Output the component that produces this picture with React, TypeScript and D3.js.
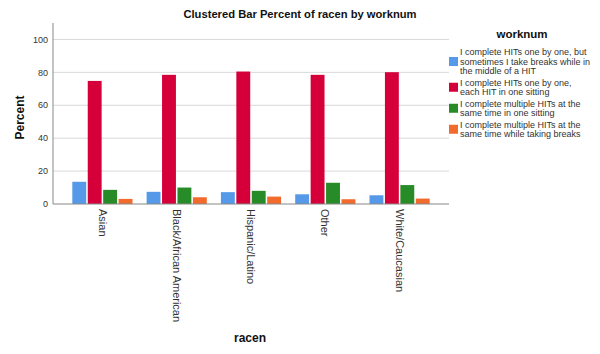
import { useEffect, useRef } from 'react';
import * as d3 from 'd3';

const categories = ['Asian', 'Black/African American', 'Hispanic/Latino', 'Other', 'White/Caucasian'];
const seriesNames = [
  ['I complete HITs one by one, but', 'sometimes I take breaks while in', 'the middle of a HIT'],
  ['I complete HITs one by one,', 'each HIT in one sitting'],
  ['I complete multiple HITs at the', 'same time in one sitting'],
  ['I complete multiple HITs at the', 'same time while taking breaks'],
];
const breaksWhile = [13.5, 7.4, 7.2, 5.9, 5.3];
const oneSitting = [74.8, 78.5, 80.5, 78.5, 80.1];
const multipleOneSitting = [8.6, 10.0, 8.0, 12.9, 11.5];
const multipleBreaks = [3.1, 4.1, 4.5, 2.9, 3.3];
const yTicks = [0, 20, 40, 60, 80, 100];

const colors = ['#5599e8', '#d5003a', '#278b27', '#f26b2d'];

export default function App() {
  const containerRef = useRef<HTMLDivElement>(null);

  useEffect(() => {
    if (!containerRef.current) return;
    d3.select(containerRef.current).selectAll('*').remove();

    const width = 600;
    const height = 354;
    const left = 53;
    const right = 449;
    const top = 23;
    const bottom = 204;

    const svg = d3
      .select(containerRef.current)
      .append('svg')
      .attr('width', width)
      .attr('height', height)
      .style('display', 'block')
      .style('font-family', 'Arial, "Liberation Sans", sans-serif');

    svg.append('rect').attr('width', width).attr('height', height).attr('fill', '#fff');

    const series = [breaksWhile, oneSitting, multipleOneSitting, multipleBreaks];

    const x0 = d3.scaleBand<string>().domain(categories).range([left, right]).paddingInner(0.19).paddingOuter(0.26);
    const x1 = d3
      .scaleBand<number>()
      .domain(d3.range(series.length))
      .range([0, x0.bandwidth()])
      .paddingInner(0.1);
    const y = d3.scaleLinear().domain([0, 110]).range([bottom, top]);

    // grid
    svg
      .append('g')
      .selectAll('line')
      .data(yTicks.filter((t) => t > 0))
      .join('line')
      .attr('x1', left)
      .attr('x2', right)
      .attr('y1', (d) => y(d))
      .attr('y2', (d) => y(d))
      .attr('stroke', '#d9d9d9')
      .attr('stroke-width', 1);

    // y tick labels
    svg
      .append('g')
      .selectAll('text')
      .data(yTicks)
      .join('text')
      .attr('x', left - 5)
      .attr('y', (d) => y(d))
      .attr('dy', '0.35em')
      .attr('text-anchor', 'end')
      .attr('font-size', 9)
      .attr('fill', '#333')
      .text((d) => d);

    // bars
    categories.forEach((cat, ci) => {
      series.forEach((vals, si) => {
        svg
          .append('rect')
          .attr('x', (x0(cat) ?? 0) + (x1(si) ?? 0))
          .attr('y', y(vals[ci]))
          .attr('width', x1.bandwidth())
          .attr('height', bottom - y(vals[ci]))
          .attr('fill', colors[si]);
      });
    });

    // axes lines
    svg.append('line').attr('x1', left).attr('x2', left).attr('y1', top).attr('y2', bottom).attr('stroke', '#888');
    svg.append('line').attr('x1', left).attr('x2', right).attr('y1', bottom).attr('y2', bottom).attr('stroke', '#888');

    // category labels
    svg
      .append('g')
      .selectAll('text')
      .data(categories)
      .join('text')
      .attr('transform', (d) => `translate(${(x0(d) ?? 0) + x0.bandwidth() / 2},${bottom + 5}) rotate(90)`)
      .attr('dy', '0.35em')
      .attr('font-size', 11)
      .attr('fill', '#333')
      .text((d) => d);

    // title and axis titles
    svg
      .append('text')
      .attr('x', 300)
      .attr('y', 18)
      .attr('text-anchor', 'middle')
      .attr('font-size', 11.2)
      .attr('font-weight', 'bold')
      .attr('fill', '#111')
      .text('Clustered Bar Percent of racen by worknum');

    svg
      .append('text')
      .attr('transform', `translate(24,${(top + bottom) / 2 + 4}) rotate(-90)`)
      .attr('text-anchor', 'middle')
      .attr('font-size', 12)
      .attr('font-weight', 'bold')
      .attr('fill', '#111')
      .text('Percent');

    svg
      .append('text')
      .attr('x', 250)
      .attr('y', 342)
      .attr('text-anchor', 'middle')
      .attr('font-size', 12)
      .attr('font-weight', 'bold')
      .attr('fill', '#111')
      .text('racen');

    // legend
    const legend = svg.append('g');
    legend
      .append('text')
      .attr('x', 522)
      .attr('y', 38)
      .attr('text-anchor', 'middle')
      .attr('font-size', 11.5)
      .attr('font-weight', 'bold')
      .attr('fill', '#111')
      .text('worknum');

    let cy = 52;
    seriesNames.forEach((lines, i) => {
      const n = lines.length;
      const mid = cy + ((n - 1) * 9.5) / 2;
      legend
        .append('rect')
        .attr('x', 449)
        .attr('y', mid - 4.5)
        .attr('width', 9)
        .attr('height', 9)
        .attr('fill', colors[i]);
      lines.forEach((ln, li) => {
        legend
          .append('text')
          .attr('x', 460)
          .attr('y', cy + li * 9.5)
          .attr('dy', '0.35em')
          .attr('font-size', 9)
          .attr('fill', '#333')
          .text(ln);
      });
      cy += n * 9.5 + 2;
    });
  }, []);

  return <div ref={containerRef} style={{ margin: -8, width: 600, height: 354, overflow: 'hidden' }}></div>;
}
